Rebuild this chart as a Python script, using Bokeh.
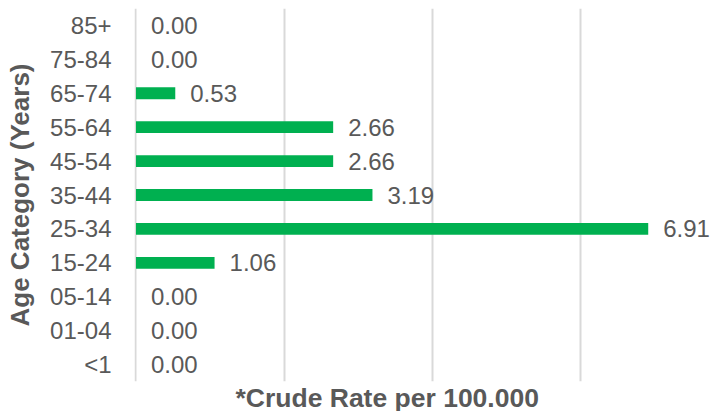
from bokeh.plotting import figure
from bokeh.models import FactorRange, Range1d, FixedTicker, ColumnDataSource, Title
from bokeh.core.properties import value
from bokeh.embed import file_html
from bokeh.resources import INLINE

categories = ["<1", "01-04", "05-14", "15-24", "25-34", "35-44", "45-54", "55-64", "65-74", "75-84", "85+"]
rates = [0.00, 0.00, 0.00, 1.06, 6.91, 3.19, 2.66, 2.66, 0.53, 0.00, 0.00]
rate_labels = ["%.2f" % r for r in rates]
grid_ticks = [0, 2, 4, 6]

FONT = "Liberation Sans"
GRAY = "#595959"
GREEN = "#00B050"

src = ColumnDataSource(dict(cat=categories, rate=rates, label=rate_labels))

p = figure(width=710, height=411, output_backend="svg", toolbar_location=None,
           y_range=FactorRange(factors=categories), x_range=Range1d(-0.02, 7.75),
           min_border_left=134, min_border_right=0, min_border_top=8, min_border_bottom=27)
p.outline_line_color = None
p.background_fill_color = "white"
p.border_fill_color = "white"

p.hbar(y="cat", right="rate", left=0, height=0.35, fill_color=GREEN, line_color=None, source=src)
p.text(x="rate", y="cat", text="label", source=src, x_offset=15,
       text_font=value(FONT), text_font_size="24px", text_color=GRAY,
       text_baseline="middle", text_align="left")

# x axis: only gridlines
p.xaxis.ticker = FixedTicker(ticks=grid_ticks)
p.xaxis.visible = False
p.xgrid.ticker = FixedTicker(ticks=grid_ticks)
p.xgrid.grid_line_color = "#D9D9D9"
p.xgrid.grid_line_width = 2
p.ygrid.grid_line_color = None

# y axis
ax = p.yaxis[0]
ax.axis_line_color = None
ax.major_tick_line_color = None
ax.minor_tick_line_color = None
ax.major_tick_out = 0
ax.major_label_standoff = 23
ax.major_label_text_font = FONT
ax.major_label_text_font_size = "24px"
ax.major_label_text_color = GRAY
ax.axis_label = "Age Category (Years)"
ax.axis_label_text_font = FONT
ax.axis_label_text_font_size = "26px"
ax.axis_label_text_font_style = "bold"
ax.axis_label_text_color = GRAY
ax.axis_label_standoff = 12

t = Title(text="*Crude Rate per 100.000", align="left", offset=101, standoff=-2,
          text_font=FONT, text_font_size="26.5px", text_font_style="bold", text_color=GRAY,
          text_line_height=1.0)
p.add_layout(t, "below")

open("out.html", "w").write(file_html(p, INLINE))
